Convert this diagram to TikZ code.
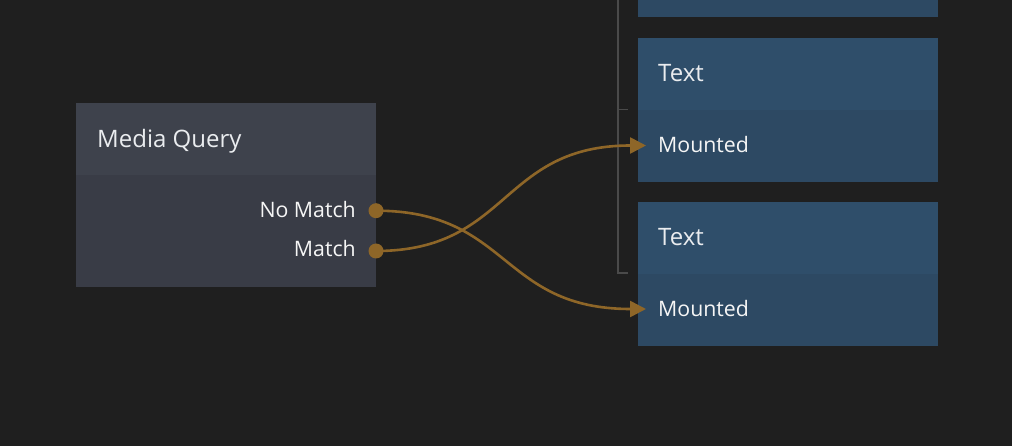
\documentclass[tikz,border=0pt]{standalone}
\usepackage{fontspec}
\setmainfont{Open Sans}
\usetikzlibrary{arrows.meta}
\definecolor{bg}{HTML}{1F1F1F}
\definecolor{mqhead}{HTML}{3E424C}
\definecolor{mqbody}{HTML}{393C46}
\definecolor{bluehead}{HTML}{2F4E6A}
\definecolor{bluebody}{HTML}{2D4963}
\definecolor{wire}{HTML}{8E6628}
\definecolor{bracketc}{HTML}{4A4A4A}
\definecolor{titlec}{HTML}{EAECEF}
\definecolor{portc}{HTML}{F6F6F6}
\begin{document}
\begin{tikzpicture}[x=1pt,y=-1pt,
  panel/.style={draw=none,inner sep=0pt,outer sep=0pt,anchor=north west,minimum width=300pt},
  title/.style={anchor=base west,inner sep=0pt,text=titlec,font=\fontsize{24}{28}\selectfont},
  portlbl/.style={inner sep=0pt,text=portc,font=\fontsize{21.3}{25}\selectfont},
  wirestyle/.style={draw=wire,line width=2.6pt},
  dot/.style={circle,fill=wire,inner sep=0pt,minimum size=15pt},
  bracketline/.style={draw=bracketc,line width=1.5pt}]
\fill[bg] (0,0) rectangle (1012,446);
\useasboundingbox (0,0) rectangle (1012,446);
% bracket
\draw[bracketline] (618,0) -- (618,273) -- (628,273);
\draw[bracketline] (618,109.5) -- (628,109.5);
% top partial node
\node[panel,fill=bluebody,minimum height=17.5pt] (t0) at (638,0) {};
% Text node 1
\node[panel,fill=bluehead,minimum height=72pt] (t1h) at (638,38) {};
\node[panel,fill=bluebody,minimum height=72pt] (t1b) at (638,110) {};
% Text node 2
\node[panel,fill=bluehead,minimum height=72pt] (t2h) at (638,202) {};
\node[panel,fill=bluebody,minimum height=72pt] (t2b) at (638,274) {};
% Media Query node
\node[panel,fill=mqhead,minimum height=72pt] (mqh) at (76,103) {};
\node[panel,fill=mqbody,minimum height=112pt] (mqb) at (76,175) {};
% labels
\node[title] (mqt) at (97,147.3) {Media Query};
\node[title] (t1t) at (658,81.7) {Text};
\node[title] (t2t) at (658,245.7) {Text};
\node[portlbl,anchor=base west] (m1) at (658,152.7) {Mounted};
\node[portlbl,anchor=base west] (m2) at (658,316.7) {Mounted};
\node[portlbl,anchor=base east] (nm) at (356,217.7) {No Match};
\node[portlbl,anchor=base east] (ma) at (356,256.7) {Match};
% ports
\coordinate (pnm) at (376,210.7);
\coordinate (pma) at (376,251);
\coordinate (in1) at (646,145.5);
\coordinate (in2) at (646,309);
% wires
\draw[wirestyle,-{Triangle[length=16pt,width=16pt]}] (pma) .. controls (510,251) and (500,145.5) .. (in1);
\draw[wirestyle,-{Triangle[length=16pt,width=16pt]}] (pnm) .. controls (510,210.7) and (500,309) .. (in2);
\node[dot] (dnm) at (pnm) {};
\node[dot] (dma) at (pma) {};
\end{tikzpicture}
\end{document}
